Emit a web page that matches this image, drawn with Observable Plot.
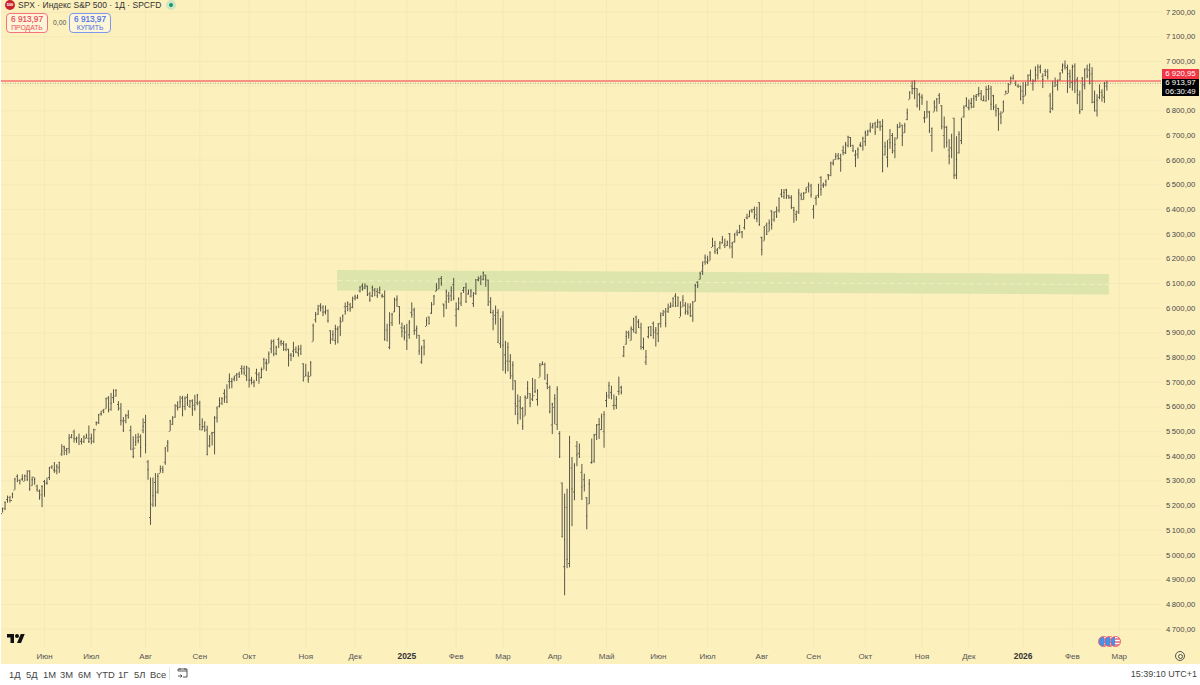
<!DOCTYPE html>
<html><head><meta charset="utf-8">
<script src="https://cdn.jsdelivr.net/npm/d3@7"></script>
<script src="https://cdn.jsdelivr.net/npm/@observablehq/plot@0.6"></script>
<style>
html,body{margin:0;padding:0;width:1200px;height:685px;overflow:hidden;background:#fff;font-family:"Liberation Sans",sans-serif;color:#3a3a3a}
#wrap{position:relative;width:1200px;height:664px;background:#fcf0bd}
#wrap svg.plot{display:block}
.abs{position:absolute;white-space:nowrap}
.btn{box-sizing:border-box;width:42px;height:19.5px;border-radius:4px;background:#fdf6d8;text-align:center;top:13px;line-height:1}
.btn b{display:block;font-size:8.2px;font-weight:400;margin-top:1.5px;-webkit-text-stroke:.2px currentColor}
.btn span{display:block;font-size:6.8px;margin-top:1.5px}
.flag{box-sizing:border-box;width:11px;height:11px;border-radius:50%;border:1.2px solid #ee5a6a;top:636px;background:linear-gradient(90deg,#4a90e2 0 50%,transparent 50%),repeating-linear-gradient(#fff 0 1.5px,#f08a94 1.5px 3px)}
#bar{position:relative;height:21px;background:#fff;font-size:9.4px}
#bar span{position:absolute;top:5px;color:#444}
</style></head><body>
<div id="wrap">
<div class="abs" style="left:0;top:0;width:1px;height:664px;background:#fff;z-index:3"></div>
<div class="abs" style="left:5px;top:0;width:10px;height:10px;border-radius:50%;background:#c8212f;z-index:2;color:#fff;font-size:4px;line-height:10px;text-align:center;font-weight:700">500</div>
<div class="abs" style="left:18px;top:-1px;font-size:8.5px;line-height:12px;color:#333;z-index:2">SPX · Индекс S&amp;P 500 · 1Д · SPCFD</div>
<div class="abs" style="left:166px;top:0;width:10px;height:10px;border-radius:50%;background:#cfe6c0;z-index:2"></div>
<div class="abs" style="left:169px;top:3px;width:4px;height:4px;border-radius:50%;background:#119977;z-index:2"></div>
<div class="abs btn" style="left:6px;border:1px solid #f2737f;color:#ee4a5a;z-index:2"><b>6 913,97</b><span>ПРОДАТЬ</span></div>
<div class="abs" style="left:53px;top:19px;font-size:6.8px;color:#555;z-index:2">0,00</div>
<div class="abs btn" style="left:69px;border:1px solid #7d97ee;color:#4a6de8;z-index:2"><b>6 913,97</b><span>КУПИТЬ</span></div>
<div class="abs" style="left:1162px;top:69px;width:37px;height:10px;background:#f23645;color:#fff;font-size:7.8px;line-height:10px;text-align:center;z-index:2">6 920,95</div>
<div class="abs" style="left:1162px;top:79px;width:37px;height:17px;background:#000;color:#fff;font-size:7.8px;line-height:8.5px;text-align:center;z-index:2">6 913,97<br>06:30:49</div>
<svg class="abs" style="left:7px;top:632px;z-index:2" width="18" height="11" viewBox="0 0 36 22"><path d="M14 22H7V11H0V4h14v18zM28 22h-8l7.5-18h8L28 22z" fill="#111"/><circle cx="20" cy="8" r="4" fill="#111"/></svg>
<div class="abs flag" style="left:1098px;z-index:2"></div>
<div class="abs flag" style="left:1104px;z-index:2"></div>
<div class="abs flag" style="left:1110px;z-index:2"></div>
<div class="abs" style="left:1175px;top:651px;width:8px;height:8px;border:1px solid #555;border-radius:50%;z-index:2"></div>
<div class="abs" style="left:1178px;top:654px;width:3px;height:3px;border:0.6px solid #555;border-radius:50%;z-index:2"></div>
</div>
<div id="bar">
<span style="left:9px">1Д</span><span style="left:26px">5Д</span><span style="left:43px">1М</span><span style="left:60px">3М</span><span style="left:78px">6М</span><span style="left:96px">YTD</span><span style="left:118px">1Г</span><span style="left:134px">5Л</span><span style="left:150px">Все</span>
<span style="left:169px;top:3px;width:1px;height:13px;background:#e4e4e4"></span>
<svg style="position:absolute;left:177px;top:3px" width="11" height="12" viewBox="0 0 11 12" fill="none" stroke="#444" stroke-width=".9"><path d="M1 4h9M1 4V2h9v8H6M3 1v2M8 1v2M1 9h4M3.5 7.5 5 9l-1.5 1.5"/></svg>
<span style="right:3px;font-size:9px">15:39:10 UTC+1</span>
</div>
<script>
const opens = [
5168,5189,5225,5233,5221,5263,5319,5303,5308,5298,5319,5340,5281,5315,5279,5259,5244,
5298,5292,5314,5357,5344,5341,5354,5409,5440,5424,5431,5477,5499,5471,5474,5461,5460,5473,5473,
5471,5461,5507,5536,5572,5585,5592,5636,5590,5638,5644,5610,5595,5543,5544,5565,5505,5429,5433,5477,5479,5506,
5537,5377,5152,5206,5294,5255,5331,5351,5376,5442,5501,5530,5558,5604,5598,5636,5602,5639,5602,5624,5607,5617,
5616,5507,5520,5507,5443,5491,5496,5557,5603,5615,5655,5641,5703,5703,5712,5727,5733,5756,5755,5727,
5758,5709,5700,5737,5731,5719,5751,5778,5775,5836,5866,5816,5873,5859,5857,5833,5834,5810,5826,5833,5819,5835,5775,
5723,5725,5723,5864,5953,5976,6009,6004,5985,5990,5909,5875,5869,5915,5925,5945,6006,6007,6014,6004,
6040,6042,6070,6090,6082,6090,6058,6050,6073,6068,6064,6050,6048,5912,5842,5941,5985,6033,6007,5921,5920,
5903,5892,5983,5993,5911,5890,5782,5869,5926,5964,5980,6014,6069,6077,6121,6017,6026,6050,6050,6096,
5970,5998,6021,6072,6084,6058,6049,6019,6060,6115,6121,6117,6134,6114,6026,5982,5971,5982,5856,
5968,5811,5786,5785,5726,5706,5604,5624,5594,5563,5635,5654,5632,5646,5630,5719,5771,5771,5696,5679,5527,
5598,5529,5492,5292,4953,5193,4966,5353,5256,5441,5412,5335,5305,5232,5207,5375,5381,5489,5529,5508,5500,
5626,5645,5659,5606,5606,5663,5679,5807,5854,5901,5869,5914,5902,5945,5921,5841,5782,5885,5925,5939,5903,
5897,5938,5978,5985,5988,6005,6010,6049,6009,5962,6005,6012,5988,6005,5969,6027,6105,6117,6150,6188,
6187,6192,6246,6254,6236,6246,6265,6255,6254,6302,6249,6269,6308,6306,6309,6326,6368,6370,6397,6400,6379,6428,
6287,6272,6336,6310,6394,6359,6391,6397,6462,6453,6479,6456,6448,6408,6380,6390,6458,6441,6467,6492,6496,
6401,6445,6458,6530,6499,6500,6540,6538,6589,6603,6618,6607,6639,6630,6660,6692,6660,6620,6624,6661,6657,
6675,6702,6722,6734,6748,6735,6754,6738,6622,6612,6684,6700,6638,6686,6732,6741,6711,6765,6845,6900,6890,6890,6865,
6856,6771,6771,6795,6700,6795,6815,6862,6821,6700,6733,6641,6650,6770,6540,6630,6680,6776,6820,
6813,6831,6816,6859,6866,6870,6841,6840,6887,6889,6861,6815,6809,6787,6792,6865,6870,6906,6932,6912,6900,6900,
6880,6860,6905,6945,6910,6920,6945,6977,6940,6960,6958,6860,6810,6900,6905,6925,6965,6985,6975,6950,
6915,6980,6925,6865,6805,6905,6970,6965,6950,6835,6800,6855,6875,6855,6900];
const highs = [
5190,5215,5239,5238,5251,5311,5325,5304,5325,5324,5342,5342,5316,5312,5283,5264,5281,
5302,5312,5355,5362,5375,5366,5376,5447,5441,5432,5488,5487,5506,5478,5490,5472,5483,5490,5523,
5490,5510,5539,5570,5583,5590,5636,5642,5655,5670,5670,5622,5614,5557,5570,5585,5522,5479,5488,5492,5487,5552,
5566,5383,5312,5312,5330,5329,5361,5360,5435,5464,5546,5561,5608,5621,5643,5643,5641,5651,5627,5629,5647,5651,
5623,5552,5540,5522,5484,5497,5561,5600,5637,5638,5670,5690,5734,5716,5725,5735,5741,5767,5765,5765,
5757,5720,5708,5753,5739,5758,5797,5793,5823,5871,5872,5846,5879,5870,5866,5857,5834,5817,5862,5843,5848,5850,5775,
5773,5741,5783,5936,5983,6012,6018,6010,6009,5993,5909,5909,5931,5925,5963,5973,6021,6026,6020,6045,
6053,6053,6087,6099,6099,6090,6065,6090,6080,6079,6086,6057,6070,5935,5982,5979,6040,6050,6007,5940,5930,
5935,5950,6022,6000,5928,5890,5847,5871,5961,5965,6023,6052,6100,6119,6128,6017,6074,6065,6087,6121,
6022,6042,6062,6084,6101,6074,6076,6064,6116,6127,6130,6147,6134,6114,6043,5992,6009,5994,5959,
5986,5866,5860,5812,5783,5706,5649,5642,5598,5645,5703,5654,5716,5711,5670,5776,5783,5777,5732,5685,5615,
5650,5682,5500,5292,5247,5267,5481,5395,5370,5460,5450,5367,5328,5233,5306,5470,5489,5529,5553,5571,5581,
5659,5700,5684,5649,5642,5721,5684,5845,5907,5907,5925,5959,5968,5954,5939,5879,5829,5924,5926,5944,5922,
5937,5981,5991,5999,6017,6022,6043,6059,6045,6026,6051,6023,6018,6018,6026,6097,6108,6146,6188,6216,
6211,6228,6284,6271,6242,6270,6291,6280,6272,6303,6267,6303,6316,6336,6310,6360,6381,6395,6401,6410,6409,6428,
6288,6330,6345,6358,6395,6390,6410,6446,6481,6481,6482,6457,6456,6409,6394,6482,6466,6469,6489,6508,6502,
6416,6456,6502,6533,6507,6520,6542,6592,6601,6627,6627,6624,6657,6672,6697,6692,6660,6639,6650,6671,6693,
6718,6721,6750,6749,6754,6764,6757,6764,6673,6680,6724,6708,6691,6745,6752,6742,6749,6807,6877,6920,6923,6890,6871,
6865,6797,6839,6798,6730,6841,6850,6870,6821,6775,6737,6683,6705,6770,6695,6715,6770,6820,6853,
6844,6850,6862,6866,6895,6882,6860,6899,6902,6899,6863,6825,6810,6796,6840,6880,6910,6937,6945,6920,6906,6900,
6914,6915,6945,6965,6926,6978,6986,6985,6950,6968,6967,6870,6920,6933,6925,6955,6990,7002,6985,6965,
6985,6990,6935,6880,6935,6970,6985,6990,6975,6880,6865,6905,6885,6915,6920];
const lows = [
5170,5180,5210,5211,5228,5263,5296,5284,5299,5298,5298,5258,5279,5283,5255,5222,5192,
5234,5283,5302,5349,5331,5325,5331,5400,5403,5403,5410,5471,5454,5452,5447,5446,5452,5471,5452,
5447,5452,5523,5529,5563,5574,5591,5576,5583,5614,5640,5585,5523,5497,5532,5552,5426,5391,5440,5451,5394,5492,
5410,5303,5120,5193,5196,5247,5331,5330,5364,5416,5501,5525,5554,5584,5595,5560,5585,5602,5594,5562,5583,5605,
5504,5504,5499,5402,5434,5442,5406,5535,5596,5606,5615,5615,5672,5674,5702,5703,5717,5729,5727,5703,
5677,5689,5678,5703,5696,5714,5751,5744,5775,5816,5804,5808,5840,5846,5825,5824,5762,5784,5800,5816,5802,5811,5703,
5723,5696,5723,5864,5940,5971,5985,5966,5973,5940,5853,5866,5850,5856,5885,5944,5972,5986,5984,5998,
6030,6036,6062,6070,6076,6048,6024,6043,6050,6040,6055,6040,5867,5866,5832,5926,5982,6003,5933,5880,5868,
5829,5874,5960,5890,5875,5809,5773,5807,5926,5933,5975,6012,6067,6076,6089,5962,5995,6020,6027,6030,
5923,5990,6007,6060,6020,6053,6042,6003,6052,6107,6092,6111,6085,6009,5977,5909,5932,5858,5837,
5744,5733,5742,5711,5666,5565,5528,5547,5505,5563,5632,5597,5622,5654,5603,5720,5768,5711,5670,5572,5488,
5528,5505,5392,5070,4835,4945,4948,5115,5220,5358,5392,5221,5256,5102,5205,5368,5372,5464,5468,5505,5433,
5597,5631,5629,5586,5590,5646,5649,5800,5851,5875,5868,5900,5894,5918,5830,5830,5768,5876,5885,5874,5843,
5861,5920,5967,5921,5979,6000,6003,6003,6004,5964,6004,5972,5971,5964,5943,6025,6080,6115,6133,6174,
6177,6192,6246,6218,6216,6237,6260,6242,6250,6244,6201,6264,6292,6302,6282,6317,6360,6367,6386,6359,6347,6332,
6212,6272,6295,6310,6317,6349,6364,6386,6447,6441,6441,6441,6400,6344,6352,6380,6439,6438,6465,6467,6446,
6361,6415,6445,6454,6486,6492,6518,6533,6577,6600,6600,6551,6618,6623,6650,6652,6632,6570,6604,6651,6637,
6656,6697,6711,6726,6700,6728,6717,6550,6617,6569,6644,6626,6606,6685,6730,6655,6708,6760,6845,6865,6845,6811,6800,
6822,6749,6770,6708,6632,6795,6795,6826,6723,6646,6650,6581,6606,6522,6521,6625,6663,6770,6813,
6800,6808,6810,6838,6855,6840,6838,6835,6841,6801,6801,6775,6720,6744,6792,6865,6870,6905,6925,6899,6893,6841,
6825,6860,6900,6918,6880,6917,6925,6950,6890,6938,6925,6789,6800,6895,6880,6920,6950,6965,6870,6890,
6880,6870,6825,6785,6800,6885,6930,6905,6830,6795,6775,6845,6835,6830,6880];
const closes = [
5188,5214,5223,5221,5247,5308,5297,5303,5308,5321,5307,5268,5305,5306,5266,5235,5278,
5283,5291,5354,5352,5347,5360,5375,5421,5434,5431,5473,5487,5473,5465,5448,5469,5478,5483,5460,
5475,5509,5537,5567,5572,5577,5633,5585,5615,5631,5667,5588,5545,5505,5564,5556,5427,5399,5459,5464,5436,5522,
5446,5346,5186,5240,5199,5319,5344,5344,5434,5455,5543,5554,5608,5597,5621,5570,5635,5616,5625,5592,5592,5648,
5529,5520,5503,5408,5471,5496,5554,5596,5626,5634,5634,5618,5714,5703,5718,5733,5722,5745,5738,5762,
5709,5709,5700,5751,5696,5751,5792,5780,5815,5859,5815,5842,5841,5865,5853,5851,5797,5809,5808,5823,5832,5813,5705,
5729,5712,5782,5929,5973,5996,6001,5984,5985,5949,5871,5893,5917,5917,5949,5969,5987,6021,5998,6032,
6047,6050,6086,6075,6090,6053,6034,6084,6051,6051,6074,6050,5872,5867,5931,5975,6040,6037,5971,5907,5882,
5868,5942,5975,5909,5918,5827,5837,5842,5950,5937,5997,6049,6086,6119,6101,6012,6067,6039,6071,6041,
5994,6038,6061,6084,6026,6066,6069,6052,6115,6115,6130,6144,6118,6013,5983,5956,5957,5861,5955,
5850,5778,5842,5738,5770,5614,5572,5599,5522,5639,5675,5615,5675,5663,5667,5768,5777,5712,5693,5581,5612,
5633,5671,5397,5074,5062,4983,5457,5268,5363,5406,5397,5276,5283,5158,5288,5376,5485,5525,5529,5561,5569,
5604,5687,5650,5607,5631,5664,5660,5844,5886,5892,5917,5958,5964,5940,5845,5842,5803,5922,5889,5912,5912,
5936,5970,5971,5939,6000,6006,6039,6022,6045,5977,6033,5982,5981,5968,6025,6092,6092,6141,6173,6205,
6198,6227,6279,6230,6226,6263,6280,6260,6269,6244,6264,6297,6297,6306,6310,6359,6363,6389,6390,6371,6363,6339,
6238,6330,6299,6345,6340,6389,6373,6446,6467,6469,6450,6449,6411,6396,6370,6467,6440,6465,6481,6502,6460,
6416,6448,6502,6482,6495,6513,6532,6588,6584,6615,6606,6600,6632,6664,6694,6657,6638,6605,6644,6661,6688,
6711,6715,6715,6740,6714,6754,6735,6553,6655,6644,6671,6630,6664,6735,6736,6699,6739,6792,6875,6891,6890,6822,6840,
6852,6772,6796,6720,6729,6832,6847,6851,6737,6734,6672,6617,6642,6539,6603,6705,6766,6813,6849,
6812,6829,6849,6857,6870,6847,6841,6887,6901,6827,6816,6800,6721,6775,6835,6878,6909,6932,6930,6905,6896,6845,
6858,6902,6944,6921,6921,6966,6977,6964,6927,6944,6940,6797,6876,6913,6916,6950,6979,6978,6969,6939,
6976,6918,6883,6798,6932,6965,6942,6941,6833,6836,6843,6881,6861,6910,6913.97];

const monthBars = [17,36,58,80,100,123,143,164,184,203,224,245,266,286,308,329,350,373,392,414,434,453];
const monthNames = ["Июн","Июл","Авг","Сен","Окт","Ноя","Дек","2025","Фев","Мар","Апр","Май","Июн","Июл","Авг","Сен","Окт","Ноя","Дек","2026","Фев","Мар"];
const priceGrid = [4700,4800,4900,5000,5100,5200,5300,5400,5500,5600,5700,5800,5900,6000,6100,6200,6300,6400,6500,6600,6700,6800,6900,7000,7100,7200];
const priceHidden = [6900];
const zoneBars = [135.9,449];
const zoneTop = [6153,6137];
const zoneBottom = [6070,6054];
const zoneMid = [6112,6096];
const lastRed = 6920.95;
const lastPrice = 6913.97;

if (![highs,lows,closes].every(a => a.length === opens.length)) throw new Error("len " + [opens.length,highs.length,lows.length,closes.length]);

const bars = opens.map((o,i) => ({i, open:o, high:highs[i], low:lows[i], close:closes[i]}));
const zone = zoneBars.map((x,k) => ({x, top:zoneTop[k], bottom:zoneBottom[k], mid:zoneMid[k]}));
const labelOf = new Map(monthBars.map((b,k) => [b, monthNames[k]]));
const isYear = b => /^\d/.test(labelOf.get(b));
const fmtPrice = v => {const s = String(v); return s.slice(0,1) + "\u2009" + s.slice(1) + ",00";};
const ink = "#3c3c35";

const chart = Plot.plot({
  width:1200, height:664,
  marginLeft:0, marginRight:39, marginTop:0, marginBottom:16,
  style:{background:"transparent", fontFamily:'"Liberation Sans",sans-serif'},
  x:{type:"linear", domain:[0,448], range:[2.1,1106.4]},
  y:{type:"linear", domain:[4700,7200], range:[628.6,11.6]},
  marks:[
    Plot.gridY(priceGrid,{stroke:"#f4e9b8", strokeOpacity:1, strokeWidth:1}),
    Plot.gridX(monthBars,{stroke:"#f4e9b8", strokeOpacity:1, strokeWidth:1}),
    Plot.areaY(zone,{x:"x", y1:"bottom", y2:"top", fill:"#dde5ac"}),
    Plot.line(zone,{x:"x", y:"mid", stroke:"#f3efc4", strokeWidth:1, strokeDasharray:"4,4"}),
    Plot.ruleX(bars,{x:"i", y1:"low", y2:"high", stroke:ink, strokeWidth:0.85}),
    Plot.ruleY(bars,{y:"open", x1:d=>d.i-0.38, x2:"i", stroke:ink, strokeWidth:0.8}),
    Plot.ruleY(bars,{y:"close", x1:"i", x2:d=>d.i+0.38, stroke:ink, strokeWidth:0.8}),
    Plot.ruleY([lastPrice],{dy:0.6, stroke:"#77776a", strokeWidth:0.6, strokeDasharray:"1,1.5"}),
    Plot.ruleY([lastRed],{stroke:"#f23645", strokeWidth:1.1}),
    Plot.axisY({anchor:"right", ticks:priceGrid.filter(v=>!priceHidden.includes(v)), tickSize:0, tickPadding:4.5, tickFormat:fmtPrice, fontSize:7.7, fill:"#4a4a4a", label:null}),
    Plot.axisX({anchor:"bottom", ticks:monthBars.filter(b=>!isYear(b)), tickSize:0, tickPadding:5, tickFormat:b=>labelOf.get(b), fontSize:8, fill:"#555", label:null}),
    Plot.axisX({anchor:"bottom", ticks:monthBars.filter(isYear), tickSize:0, tickPadding:5, tickFormat:b=>labelOf.get(b), fontSize:8.4, fontWeight:"bold", fill:"#333", label:null})
  ]
});
document.getElementById("wrap").prepend(chart);
</script>
</body></html>
